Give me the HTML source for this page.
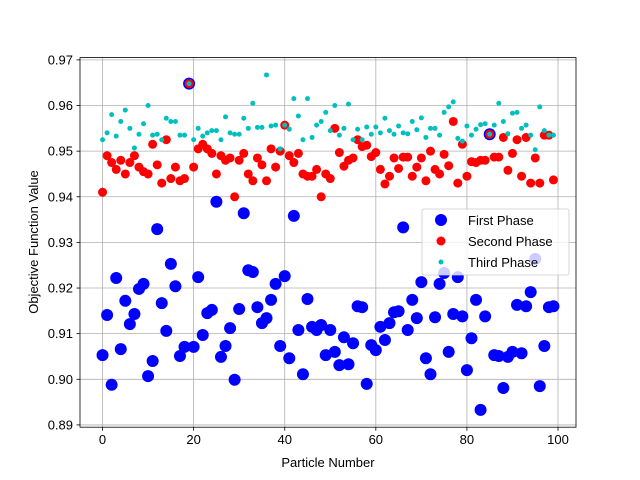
<!DOCTYPE html>
<html><head><meta charset="utf-8"><style>
body{margin:0;background:#fff}
svg{display:block;font-family:"Liberation Sans","DejaVu Sans",sans-serif}
</style></head><body>
<svg id="chart" width="640" height="480" viewBox="0 0 640 480" xmlns="http://www.w3.org/2000/svg">
<rect width="640" height="480" fill="#fff"/>
<g id="grid"></g>
<g id="marks"></g>
<rect x="80" y="57.6" width="496" height="369.6" fill="none" stroke="#000" stroke-width="0.8"/>
<g id="axes"></g>
<text x="328" y="467" text-anchor="middle" font-size="13">Particle Number</text>
<text transform="translate(38,242) rotate(-90)" text-anchor="middle" font-size="13">Objective Function Value</text>
<g>
<rect x="422" y="209" width="147" height="66" rx="2" fill="#fff" fill-opacity="0.8" stroke="#ccc" stroke-width="0.8"/>
<g><circle cx="441" cy="220" r="6" fill="#0000ff"/><text x="468" y="225" font-size="13">First Phase</text></g>
<g><circle cx="441" cy="241" r="4.5" fill="#ff0000"/><text x="468" y="246" font-size="13">Second Phase</text></g>
<g><circle cx="441" cy="262" r="2.5" fill="#00bfbf"/><text x="468" y="267" font-size="13">Third Phase</text></g>
</g>
</svg>
<script>
const xTicks=[0,20,40,60,80,100];
const yTicks=[0.89,0.90,0.91,0.92,0.93,0.94,0.95,0.96,0.97];
const firstPhase=[0.9053,0.9141,0.8988,0.9222,0.9066,0.9172,0.9121,0.9143,0.9198,0.9209,0.9007,0.9040,0.9329,0.9167,0.9106,0.9253,0.9204,0.9051,0.9071,0.9648,0.9071,0.9224,0.9097,0.9145,0.9152,0.9389,0.9049,0.9073,0.9112,0.8999,0.9154,0.9364,0.9239,0.9235,0.9158,0.9123,0.9134,0.9174,0.9209,0.9073,0.9226,0.9046,0.9358,0.9108,0.9011,0.9176,0.9115,0.9108,0.9119,0.9053,0.9108,0.9060,0.9031,0.9092,0.9033,0.9079,0.9160,0.9158,0.8990,0.9075,0.9064,0.9115,0.9086,0.9123,0.9147,0.9149,0.9333,0.9108,0.9174,0.9134,0.9213,0.9046,0.9011,0.9136,0.9209,0.9233,0.9060,0.9143,0.9224,0.9138,0.9020,0.9090,0.9174,0.8933,0.9138,0.9537,0.9053,0.9051,0.8981,0.9049,0.9060,0.9163,0.9057,0.9160,0.9191,0.9264,0.8985,0.9073,0.9158,0.9160];
const secondPhase=[0.941,0.949,0.9475,0.946,0.948,0.945,0.9475,0.949,0.9465,0.9455,0.945,0.9515,0.947,0.943,0.9525,0.944,0.9465,0.9435,0.944,0.9648,0.9465,0.9505,0.9515,0.9505,0.9495,0.945,0.949,0.948,0.9485,0.940,0.948,0.9495,0.945,0.9435,0.9485,0.947,0.9435,0.9505,0.9465,0.950,0.9557,0.949,0.9475,0.9495,0.945,0.9445,0.9445,0.946,0.940,0.945,0.944,0.955,0.9497,0.9467,0.948,0.9485,0.9525,0.951,0.9513,0.9488,0.9497,0.946,0.9428,0.9445,0.9485,0.9462,0.9487,0.9487,0.9445,0.9465,0.9485,0.9435,0.950,0.946,0.945,0.9493,0.9468,0.9565,0.943,0.9515,0.9445,0.9477,0.9475,0.948,0.948,0.9537,0.9487,0.9487,0.953,0.9458,0.9495,0.9525,0.9445,0.953,0.943,0.9485,0.943,0.9535,0.9535,0.9437];
const thirdPhase=[0.9525,0.954,0.958,0.9533,0.9565,0.959,0.955,0.9507,0.9537,0.956,0.960,0.9535,0.9537,0.9525,0.9572,0.9565,0.9565,0.9535,0.9535,0.9648,0.9525,0.955,0.9533,0.954,0.9545,0.9545,0.9525,0.9575,0.954,0.9537,0.9537,0.9572,0.955,0.9605,0.9552,0.9552,0.9667,0.9555,0.9557,0.9505,0.9557,0.9548,0.9615,0.9577,0.9525,0.9615,0.953,0.9557,0.9565,0.9585,0.9545,0.960,0.9535,0.955,0.9603,0.9525,0.9548,0.9525,0.9553,0.9537,0.9553,0.954,0.9572,0.9545,0.9537,0.9555,0.954,0.9538,0.9565,0.9547,0.9573,0.953,0.955,0.955,0.9535,0.9585,0.9597,0.9608,0.9528,0.9522,0.9555,0.9535,0.9548,0.9558,0.956,0.9537,0.9557,0.9605,0.9565,0.9538,0.9583,0.9585,0.955,0.9557,0.9535,0.9503,0.9597,0.9545,0.9535,0.9535];

const NS="http://www.w3.org/2000/svg";
const X0=80,X1=576,Y0=57.6,Y1=427.2,XMIN=-4.95,XMAX=103.95,YMIN=0.8895,YMAX=0.9705;
function sx(v){return X0+(v-XMIN)/(XMAX-XMIN)*(X1-X0);}
function sy(v){return Y1-(v-YMIN)/(YMAX-YMIN)*(Y1-Y0);}
function mk(tag,attrs,parent){const e=document.createElementNS(NS,tag);for(const k in attrs)e.setAttribute(k,attrs[k]);parent.appendChild(e);return e;}
const grid=document.getElementById('grid'),axes=document.getElementById('axes'),marks=document.getElementById('marks');
xTicks.forEach(t=>{const x=sx(t);
 const g=mk('line',{x1:x,x2:x,y1:Y0,y2:Y1,stroke:'#b0b0b0','stroke-width':0.8},grid);
 
 
 mk('line',{x1:x,x2:x,y1:Y1,y2:Y1+3.5,stroke:'#000','stroke-width':0.8},axes);
 const l=mk('text',{x:x,y:Y1+17,'text-anchor':'middle','font-size':13},axes);l.textContent=t;
 
 
});
yTicks.forEach(t=>{const y=sy(t);
 const g=mk('line',{x1:X0,x2:X1,y1:y,y2:y,stroke:'#b0b0b0','stroke-width':0.8},grid);
 
 
 mk('line',{x1:X0-3.5,x2:X0,y1:y,y2:y,stroke:'#000','stroke-width':0.8},axes);
 const l=mk('text',{x:X0-7,y:y+4.5,'text-anchor':'end','font-size':13},axes);l.textContent=t.toFixed(2);
 
 
});
function series(arr,r,color,name){arr.forEach((v,i)=>{
 const c=mk('circle',{cx:sx(i),cy:sy(v),r:r,fill:color},marks);
 
 
});}
series(firstPhase,6,'#0000ff','first-phase-point');
series(secondPhase,4.5,'#ff0000','second-phase-point');
series(thirdPhase,2.5,'#00bfbf','third-phase-point');
</script>
</body></html>
